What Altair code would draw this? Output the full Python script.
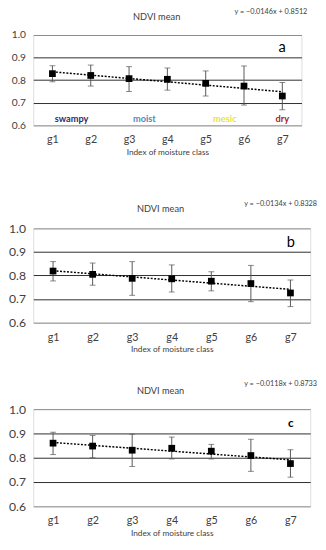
import altair as alt
import pandas as pd

classes = ["g1", "g2", "g3", "g4", "g5", "g6", "g7"]
x_idx = [1, 2, 3, 4, 5, 6, 7]

mean_a = [0.829, 0.821, 0.807, 0.804, 0.786, 0.774, 0.730]
lo_a = [0.793, 0.774, 0.750, 0.756, 0.730, 0.690, 0.669]
hi_a = [0.864, 0.867, 0.860, 0.854, 0.841, 0.863, 0.790]

mean_b = [0.819, 0.805, 0.788, 0.786, 0.776, 0.766, 0.726]
lo_b = [0.777, 0.759, 0.716, 0.730, 0.735, 0.689, 0.668]
hi_b = [0.859, 0.853, 0.859, 0.845, 0.816, 0.843, 0.781]

mean_c = [0.860, 0.848, 0.831, 0.839, 0.827, 0.809, 0.776]
lo_c = [0.813, 0.800, 0.764, 0.795, 0.795, 0.744, 0.720]
hi_c = [0.905, 0.892, 0.897, 0.885, 0.855, 0.876, 0.833]

equations = ["y = \u22120.0146x + 0.8512", "y = \u22120.0134x + 0.8328", "y = \u22120.0118x + 0.8733"]
letters = ["a", "b", "c"]
panel_title = "NDVI mean"
x_title = "Index of moisture class"
y_ticks = [0.6, 0.7, 0.8, 0.9, 1.0]

class_names = ["swampy", "moist", "mesic", "dry"]
class_x = [1.5, 3.4, 5.5, 7.0]
class_colors = ["#2e2a6e", "#4f88c2", "#e8e23c", "#a3211e"]

FONT = "Lato"
TXT = "#404040"


def panel(mean, lo, hi, eq, letter, width, height, ylab_size, title_pos, eq_pos,
          letter_pos, letter_size, letter_weight, classes_row=False):
    df = pd.DataFrame({"x": x_idx, "label": classes, "mean": mean, "lo": lo, "hi": hi})
    xs = alt.Scale(domain=[0.5, 7.5], nice=False, zero=False)
    ys = alt.Scale(domain=[0.6, 1.0], nice=False, zero=False)
    xaxis = alt.Axis(values=x_idx, labelExpr="'g' + datum.value", title=x_title,
                     grid=False, domain=False, ticks=False, labelFlush=False,
                     labelPadding=9, titlePadding=3, labelFont=FONT, labelFontSize=11,
                     labelColor=TXT, titleFont=FONT, titleFontSize=8.5,
                     titleFontWeight="normal", titleColor=TXT)
    yaxis = alt.Axis(values=y_ticks, tickCount=5, format=".1f", title=None, grid=True,
                     gridColor={"condition": {"test": "datum.value < 0.65 || datum.value > 0.95",
                                              "value": "#8a8a8a"}, "value": "#2a2a2a"},
                     gridWidth=1, domain=False, ticks=False, labelFlush=False,
                     labelOverlap=False,
                     labelPadding=8, labelFont=FONT, labelFontSize=ylab_size, labelColor=TXT)

    def X(field="x:Q"):
        return alt.X(field, scale=xs, axis=xaxis)

    def Y(field):
        return alt.Y(field, scale=ys, axis=yaxis)

    base = alt.Chart(df)
    rule = base.mark_rule(color="#555555", strokeWidth=1).encode(
        x=X(), y=Y("lo:Q"), y2="hi:Q")
    cap_lo = base.mark_tick(orient="horizontal", size=6, thickness=1, color="#555555").encode(
        x=X(), y=Y("lo:Q"))
    cap_hi = base.mark_tick(orient="horizontal", size=6, thickness=1, color="#555555").encode(
        x=X(), y=Y("hi:Q"))
    trend = base.transform_regression("x", "mean").mark_line(
        color="black", strokeDash=[2, 1.6], strokeWidth=1.5).encode(x=X(), y=Y("mean:Q"))
    pts = base.mark_square(size=48, color="black", opacity=1).encode(x=X(), y=Y("mean:Q"))

    tdf = pd.DataFrame({"t": [panel_title]})
    ttl = alt.Chart(tdf).mark_text(font=FONT, fontSize=9.5, color=TXT, align="center",
                                   baseline="middle").encode(
        x=alt.value(title_pos[0]), y=alt.value(title_pos[1]), text="t:N")
    edf = pd.DataFrame({"t": [eq]})
    eqt = alt.Chart(edf).mark_text(font=FONT, fontSize=7.5, color=TXT, align="right",
                                   baseline="middle").encode(
        x=alt.value(eq_pos[0]), y=alt.value(eq_pos[1]), text="t:N")
    ldf = pd.DataFrame({"t": [letter]})
    let = alt.Chart(ldf).mark_text(font=FONT, fontSize=letter_size, fontWeight=letter_weight,
                                   color="black", align="center", baseline="middle").encode(
        x=alt.value(letter_pos[0]), y=alt.value(letter_pos[1]), text="t:N")
    layers = [rule, cap_lo, cap_hi, trend, pts, ttl, eqt, let]
    if classes_row:
        cdf = pd.DataFrame({"name": class_names, "cx": class_x, "col": class_colors})
        ctext = alt.Chart(cdf).mark_text(font=FONT, fontSize=9.5, fontWeight="bold",
                                         baseline="middle").encode(
            x=X("cx:Q"),
            y=alt.value(height - 7),
            text="name:N",
            color=alt.Color("col:N", scale=None))
        layers.append(ctext)
    return alt.layer(*layers).properties(width=width, height=height)


pa = panel(mean_a, lo_a, hi_a, equations[0], letters[0], 276, 93, 10.5,
           (127, -18), (282, -24), (256, 12), 15, "normal", classes_row=True)
pb = panel(mean_b, lo_b, hi_b, equations[1], letters[1], 285, 97, 12.5,
           (131, -20), (292, -25), (265, 14), 15, "normal")
pc = panel(mean_c, lo_c, hi_c, equations[2], letters[2], 285, 100, 12.5,
           (131, -19), (292, -26), (265, 14), 12, "bold")

chart = alt.vconcat(pa, alt.vconcat(pb, pc, spacing=26), spacing=44).properties(
    padding={"top": -9, "left": 0, "right": 0, "bottom": 0}
).configure_view(stroke="#8a8a8a", strokeWidth=1).configure(font=FONT)

chart.save("out.html", embed_options={"renderer": "svg", "actions": False})
